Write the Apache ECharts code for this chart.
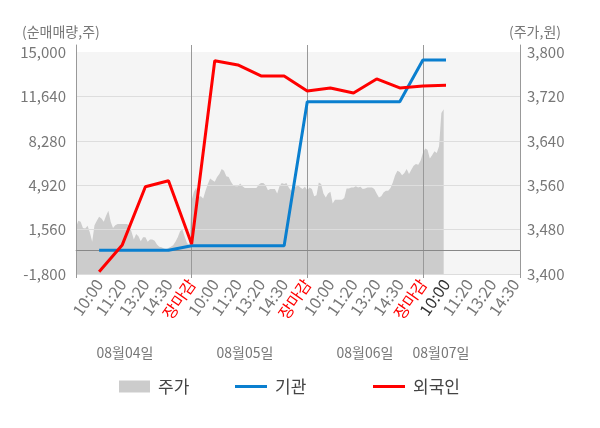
<!DOCTYPE html>
<html>
<head>
<meta charset="utf-8">
<script src="https://cdn.jsdelivr.net/npm/echarts@6/dist/echarts.min.js"></script>
<style>
  html, body { margin: 0; padding: 0; background: #fff; }
  #chart { width: 600px; height: 428px; }
</style>
</head>
<body>
<div id="chart"></div>
<script>
// x 축: 하루 5칸 (10:00, 11:20, 13:20, 14:30, 장마감)
const xLabels = ['10:00', '11:20', '13:20', '14:30', '장마감',
  '10:00', '11:20', '13:20', '14:30', '장마감',
  '10:00', '11:20', '13:20', '14:30', '장마감',
  '10:00', '11:20', '13:20', '14:30'];
const dateLabels = ['08월04일', '08월05일', '08월06일', '08월07일'];
const currentSlot = 16;

// 순매매량 (주)
const foreign = [-1630, 400, 4800, 5260, 470, 14340, 14020, 13190, 13190, 12050,
  12280, 11900, 12960, 12280, 12430, 12480];
const institution = [0, 0, 0, 0, 340, 340, 340, 340, 340, 11240,
  11240, 11240, 11240, 11240, 14400, 14400];

// 주가 (원), 0.1칸 간격
const priceStep = 0.1;
const price = [
  3484, 3496, 3494, 3483, 3482, 3487, 3475, 3458, 3488, 3496,
  3503, 3500, 3494, 3505, 3514, 3494, 3483, 3488, 3490, 3490,
  3490, 3490, 3490, 3488, 3476, 3462, 3472, 3468, 3459, 3466,
  3466, 3458, 3462, 3462, 3460, 3453, 3449, 3448, 3446, 3444,
  3447, 3449, 3452, 3458, 3466, 3477, 3480, 3467, 3456, 3452,
  3533, 3548, 3556, 3539, 3540, 3536, 3550, 3562, 3572, 3569,
  3566, 3575, 3580, 3589, 3586, 3576, 3575, 3566, 3560, 3558,
  3558, 3563, 3558, 3555, 3555, 3555, 3555, 3555, 3555, 3561,
  3564, 3564, 3560, 3551, 3553, 3553, 3553, 3545, 3558, 3564,
  3562, 3564, 3556, 3550, 3557, 3557, 3560, 3556, 3553, 3557,
  3551, 3556, 3553, 3540, 3542, 3565, 3562, 3545, 3538, 3545,
  3548, 3527, 3534, 3534, 3534, 3534, 3537, 3554, 3554, 3556,
  3556, 3558, 3556, 3557, 3553, 3554, 3556, 3556, 3556, 3553,
  3545, 3538, 3540, 3547, 3550, 3550, 3555, 3565, 3578, 3586,
  3584, 3578, 3582, 3589, 3580, 3588, 3595, 3598, 3597, 3604,
  3618, 3626, 3624, 3608, 3614, 3621, 3618, 3630, 3690, 3697
];

const font = 'Noto Sans CJK KR';
const xMax = 19.2;

const chart = echarts.init(document.getElementById('chart'));

const option = {
  animation: false,
  textStyle: { fontFamily: font },
  grid: [
    { left: 76, right: 80, top: 52, bottom: 154, show: true, backgroundColor: '#f5f5f5', borderWidth: 0 },
    { left: 76, right: 80, top: 45, bottom: 154 }
  ],
  legend: [
    {
      data: ['주가'], left: 114, top: 373, itemWidth: 31, itemHeight: 12, icon: 'rect',
      textStyle: { fontSize: 17, color: '#444', fontFamily: font, padding: [0, 0, 0, 3] }
    },
    {
      data: ['기관'], left: 230, top: 373, itemWidth: 32, itemHeight: 3, icon: 'rect',
      textStyle: { fontSize: 17, color: '#444', fontFamily: font, padding: [0, 0, 0, 3] }
    },
    {
      data: ['외국인'], left: 368, top: 373, itemWidth: 32, itemHeight: 3, icon: 'rect',
      textStyle: { fontSize: 17, color: '#444', fontFamily: font, padding: [0, 0, 0, 3] }
    }
  ],
  xAxis: [
    {
      type: 'value', gridIndex: 0, min: 0, max: xMax, interval: 1, z: 3,
      axisLine: { show: true, lineStyle: { color: '#aaa' } },
      axisTick: { show: false },
      splitLine: { show: false },
      axisLabel: {
        rotate: 55, margin: 7, fontSize: 16, color: '#777', fontFamily: font,
        showMaxLabel: false, showMinLabel: false,
        formatter: function (v) {
          if (v % 1 !== 0 || v < 1) return '';
          const t = xLabels[v - 1];
          if (!t) return '';
          if (t === '장마감') return '{close|' + t + '}';
          if (v === currentSlot) return '{now|' + t + '}';
          return t;
        },
        rich: {
          close: { color: '#ff0000', fontSize: 16, fontFamily: font },
          now: { color: '#333', fontSize: 16, fontFamily: font }
        }
      }
    },
    {
      type: 'value', gridIndex: 1, min: 0, max: xMax, interval: 5, z: 3,
      axisLine: { show: false },
      axisTick: { show: true, length: 4, lineStyle: { color: '#999' } },
      axisLabel: { show: false },
      splitLine: { show: true, lineStyle: { color: '#999', width: 1 } }
    }
  ],
  yAxis: [
    {
      type: 'value', gridIndex: 0, position: 'left', min: -1800, max: 15000, interval: 3360, z: 3,
      axisLine: { show: false }, axisTick: { show: false },
      axisLabel: { fontSize: 15, color: '#777', margin: 10, fontFamily: font },
      splitLine: { show: true, lineStyle: { color: ['#dddddd', '#dddddd', '#dddddd', '#dddddd', '#dddddd', 'rgba(0,0,0,0)'] } }
    },
    {
      type: 'value', gridIndex: 0, position: 'right', min: 3400, max: 3800, interval: 80,
      axisLine: { show: false }, axisTick: { show: false },
      axisLabel: { fontSize: 15, color: '#777', margin: 7, fontFamily: font },
      splitLine: { show: false }
    },
    {
      type: 'value', gridIndex: 1, position: 'left', min: 0, max: 1, z: 3,
      axisLine: { show: true, lineStyle: { color: '#999' } },
      axisTick: { show: false }, axisLabel: { show: false }, splitLine: { show: false }
    },
    {
      type: 'value', gridIndex: 1, position: 'right', min: 0, max: 1, z: 3,
      axisLine: { show: true, lineStyle: { color: '#999' } },
      axisTick: { show: false }, axisLabel: { show: false }, splitLine: { show: false }
    }
  ],
  graphic: [
    { type: 'text', left: 22, top: 25, style: { text: '(순매매량,주)', fontSize: 14, fill: '#777', fontFamily: font } },
    { type: 'text', left: 509, top: 25, style: { text: '(주가,원)', fontSize: 14, fill: '#777', fontFamily: font } }
  ].concat(dateLabels.map(function (d, i) {
    const cx = [125, 245, 365, 441][i];
    return {
      type: 'text', x: cx, y: 353,
      style: { text: d, fontSize: 14, fill: '#777', fontFamily: font, align: 'center', verticalAlign: 'middle' }
    };
  })),
  series: [
    {
      name: '주가', type: 'line', xAxisIndex: 0, yAxisIndex: 1, z: 2,
      symbol: 'none', itemStyle: { color: '#cccccc' },
      lineStyle: { width: 0, color: '#cccccc' },
      areaStyle: { color: '#cccccc', opacity: 1, origin: 'start' },
      data: price.map(function (v, i) { return [i * priceStep, v]; }),
      markLine: {
        silent: true, symbol: 'none', label: { show: false },
        lineStyle: { color: '#888', width: 1, type: 'solid' },
        data: [{ yAxis: 3400 + (0 + 1800) / 16800 * 400 }]
      }
    },
    {
      name: '기관', type: 'line', xAxisIndex: 0, yAxisIndex: 0, z: 10,
      symbol: 'none', itemStyle: { color: '#0a7fcf' },
      lineStyle: { width: 3, color: '#0a7fcf' },
      data: institution.map(function (v, i) { return [i + 1, v]; })
    },
    {
      name: '외국인', type: 'line', xAxisIndex: 0, yAxisIndex: 0, z: 11,
      symbol: 'none', itemStyle: { color: '#ff0000' },
      lineStyle: { width: 3, color: '#ff0000' },
      data: foreign.map(function (v, i) { return [i + 1, v]; })
    }
  ]
};

chart.setOption(option);
</script>
</body>
</html>
